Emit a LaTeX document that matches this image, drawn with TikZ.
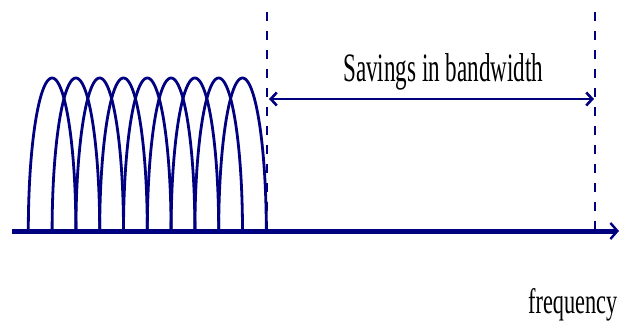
\documentclass[tikz,border=0pt]{standalone}
\usepackage{fontspec}
\setmainfont{Liberation Serif}
\usepackage{graphicx}
\usetikzlibrary{arrows.meta}
\definecolor{navyblue}{RGB}{0,0,128}
\begin{document}
\begin{tikzpicture}[x=1pt,y=-1pt,
  arch/.style={navyblue,line width=2.8pt},
  guide/.style={navyblue,line width=2.4pt,dash pattern=on 9pt off 10pt},
  axisline/.style={navyblue,line width=5pt,-{Straight Barb[length=7pt,width=16pt,line width=2.4pt]}},
  spanline/.style={navyblue,line width=2.6pt,{Straight Barb[length=6pt,width=13pt]}-{Straight Barb[length=6pt,width=13pt]}},
  lbl/.style={inner sep=0pt,anchor=base west,text=black}]
\useasboundingbox (0,0) rectangle (627,324);
\foreach \k in {0,...,8} {
  \pgfmathsetmacro\cx{52.1+23.8*\k}
  \draw[arch] plot[domain=180:0,samples=90,smooth] ({\cx+23.8*cos(\x)},{231-153*sin(\x)});
}
\coordinate (ax0) at (12,231);
\coordinate (ax1) at (619,231);
\draw[axisline] (ax0) -- (ax1);
\coordinate (d1t) at (266.7,12);
\coordinate (d1b) at (266.7,238);
\coordinate (d2t) at (595,12);
\coordinate (d2b) at (595,238);
\draw[guide] (d1t) -- (d1b);
\draw[guide] (d2t) -- (d2b);
\coordinate (s0) at (269,99);
\coordinate (s1) at (594,99);
\draw[spanline] (s0) -- (s1);
\node[lbl] (sav) at (343,81.7) {\resizebox{200pt}{28pt}{Savings in bandwidth}};
\node[lbl] (freq) at (528,313) {\resizebox{89pt}{25pt}{frequency}};
\end{tikzpicture}
\end{document}
